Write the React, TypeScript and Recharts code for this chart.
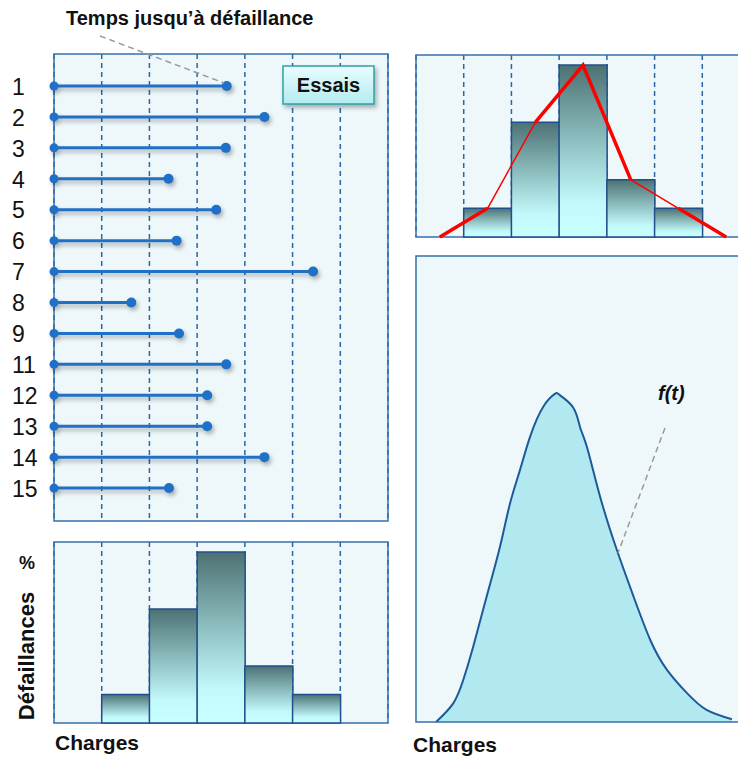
import React from 'react';
import {
  ComposedChart, Bar, Line, Area, XAxis, YAxis, CartesianGrid, ReferenceArea,
} from 'recharts';

// essais (rows) and time to failure, in load-bin units
const trials = ['1', '2', '3', '4', '5', '6', '7', '8', '9', '11', '12', '13', '14', '15'];
const failureTimes = [3.62, 4.41, 3.6, 2.4, 3.4, 2.57, 5.43, 1.62, 2.62, 3.61, 3.21, 3.21, 4.41, 2.41];

// histogram of failures per load bin (bin centres on a 0..7 load scale)
const binCenters = [0.5, 1.5, 2.5, 3.5, 4.5, 5.5, 6.5];
const failureCounts = [0, 1, 4, 6, 2, 1, 0];

// frequency polygon; drawn partly thick, partly thin
const polygonValues = [0, 1, 4, 6, 2, 1, 0];
const thickRunA = [true, true, false, false, false, true, true];
const thickRunB = [false, false, true, true, true, false, false];

// density curve f(t)
const densityX = [0.42, 0.78, 0.99, 1.2, 1.48, 1.76, 1.97, 2.18, 2.39, 2.67, 2.91, 3.02, 3.3, 3.44, 3.58, 3.86, 4.21, 4.56, 4.91, 5.26, 5.68, 6.09, 6.62];
const densityY = [0, 4, 9, 16.2, 26.9, 37.6, 46.9, 54.1, 61.2, 67.7, 70.4, 70.1, 67.4, 63.2, 59.1, 48.3, 36.9, 26.9, 17.6, 11.2, 6.2, 2.6, 0.6];

const gridTicks = [1, 2, 3, 4, 5, 6];
const LOAD_DOMAIN: [number, number] = [0, 7];
const ROW_DOMAIN: [number, number] = [-1.05, 14.05];

const trialRows = trials.map((t, i) => ({ row: i, trial: t, time: failureTimes[i] }));
const histRows = binCenters.map((c, i) => ({
  c,
  count: failureCounts[i] || null,
  poly: polygonValues[i],
  thickA: thickRunA[i] ? polygonValues[i] : null,
  thickB: thickRunB[i] ? polygonValues[i] : null,
}));
const densityRows = densityX.map((u, i) => ({ u, v: densityY[i] }));

const FONT = '"Liberation Sans", Arial, sans-serif';
const BG = '#eef8fb';
const FRAME = '#3570aa';
const DASH = '#2b66a2';

const Stick = (props: any) => {
  const { x, y, width, height } = props;
  const cy = y + height / 2;
  return (
    <g style={{ filter: 'drop-shadow(2px 3px 2px rgba(0,0,0,0.3))' }}>
      <line x1={x} x2={x + width} y1={cy} y2={cy} stroke="#1f70c6" strokeWidth={3} />
      <circle cx={x} cy={cy} r={4.5} fill="#1f70c6" />
      <circle cx={x + width} cy={cy} r={5} fill="#1f70c6" />
    </g>
  );
};

const RowTick = (props: any) => {
  const { y, payload } = props;
  return (
    <text x={12} y={y} dy="0.36em" fontSize={23} fontFamily={FONT} fill="#111">
      {trials[payload.value]}
    </text>
  );
};

const BarGradient = ({ id }: { id: string }) => (
  <defs>
    <linearGradient id={id} x1="0" y1="0" x2="0" y2="1">
      <stop offset="0%" stopColor="#4c7173" />
      <stop offset="45%" stopColor="#8fc0c1" />
      <stop offset="80%" stopColor="#c2f9fb" />
      <stop offset="100%" stopColor="#c8ffff" />
    </linearGradient>
  </defs>
);

export default function App() {
  return (
    <div style={{ position: 'absolute', left: 0, top: 0, width: 738, height: 757, overflow: 'hidden', background: '#fff', fontFamily: FONT }}>
      {/* Essais */}
      <div style={{ position: 'absolute', left: 0, top: 0 }}>
        <ComposedChart width={400} height={530} layout="vertical" data={trialRows}
          margin={{ top: 54, right: 12, bottom: 9, left: 12 }}>
          <CartesianGrid horizontal={false} strokeDasharray="5 4" stroke={DASH} strokeWidth={1.5} fill={BG} fillOpacity={1} />
          <XAxis type="number" domain={LOAD_DOMAIN} ticks={gridTicks} hide />
          <YAxis type="number" dataKey="row" domain={ROW_DOMAIN} width={42} axisLine={false} tickLine={false}
            ticks={trials.map((_, i) => i)} tick={<RowTick />} interval={0} allowDataOverflow />
          <ReferenceArea x1={0} x2={7} y1={ROW_DOMAIN[0]} y2={ROW_DOMAIN[1]} fill="none" stroke={FRAME} strokeWidth={1.5} />
          <Bar dataKey="time" barSize={10} shape={<Stick />} isAnimationActive={false} />
        </ComposedChart>
      </div>

      {/* histogram, bottom left */}
      <div style={{ position: 'absolute', left: 0, top: 534 }}>
        <ComposedChart width={400} height={197} data={histRows} barCategoryGap={0}
          margin={{ top: 8, right: 12, bottom: 8, left: 54 }}>
          <BarGradient id="gradB" />
          <XAxis dataKey="c" type="number" domain={LOAD_DOMAIN} ticks={gridTicks} hide />
          <YAxis domain={[0, 6.35]} hide />
          <CartesianGrid horizontal={false} strokeDasharray="5 4" stroke={DASH} strokeWidth={1.5} fill={BG} fillOpacity={1} />
          <Bar dataKey="count" fill="url(#gradB)" stroke="#1f4f8c" strokeWidth={1.5} isAnimationActive={false} />
          <ReferenceArea x1={0} x2={7} y1={0} y2={6.35} fill="none" stroke={FRAME} strokeWidth={1.5} />
        </ComposedChart>
      </div>

      {/* histogram + polygon, top right */}
      <div style={{ position: 'absolute', left: 404, top: 46 }}>
        <ComposedChart width={358} height={199} data={histRows} barCategoryGap={0}
          margin={{ top: 9, right: 12, bottom: 8, left: 12 }}>
          <BarGradient id="gradC" />
          <XAxis dataKey="c" type="number" domain={LOAD_DOMAIN} ticks={gridTicks} hide />
          <YAxis domain={[0, 6.35]} hide />
          <CartesianGrid horizontal={false} strokeDasharray="5 4" stroke={DASH} strokeWidth={1.5} fill={BG} fillOpacity={1} />
          <Bar dataKey="count" fill="url(#gradC)" stroke="#1f4f8c" strokeWidth={1.5} isAnimationActive={false} />
          <Line dataKey="poly" type="linear" stroke="#ff0000" strokeWidth={1.5} dot={false} isAnimationActive={false} />
          <Line dataKey="thickA" type="linear" stroke="#ff0000" strokeWidth={3.5} dot={false} isAnimationActive={false} />
          <Line dataKey="thickB" type="linear" stroke="#ff0000" strokeWidth={3.5} dot={false} isAnimationActive={false} />
          <ReferenceArea x1={0} x2={7} y1={0} y2={6.35} fill="none" stroke={FRAME} strokeWidth={1.5} />
        </ComposedChart>
      </div>

      {/* density f(t) */}
      <div style={{ position: 'absolute', left: 404, top: 248 }}>
        <ComposedChart width={358} height={482} data={densityRows}
          margin={{ top: 8, right: 12, bottom: 8, left: 12 }}>
          <CartesianGrid horizontal={false} vertical={false} fill={BG} fillOpacity={1} />
          <XAxis type="number" dataKey="u" domain={LOAD_DOMAIN} hide />
          <YAxis domain={[0, 100]} hide />
          <Area dataKey="v" type="natural" stroke="#1d5a9a" strokeWidth={2} fill="#b2e9f1" fillOpacity={1} isAnimationActive={false} />
          <ReferenceArea x1={0} x2={7} y1={0} y2={100} fill="none" stroke={FRAME} strokeWidth={1.5} />
        </ComposedChart>
      </div>

      {/* annotations */}
      <svg width={738} height={757} style={{ position: 'absolute', left: 0, top: 0, pointerEvents: 'none' }}>
        <defs>
          <linearGradient id="essaisFill" x1="0" y1="0" x2="0" y2="1">
            <stop offset="0%" stopColor="#eafcfd" />
            <stop offset="100%" stopColor="#b3ecf0" />
          </linearGradient>
        </defs>
        <text x={66} y={25} fontSize={20} fontWeight="bold" fontFamily={FONT} fill="#111">Temps jusqu’à défaillance</text>
        <line x1={100} y1={36} x2={224} y2={83} stroke="#9a9a9a" strokeWidth={1.5} strokeDasharray="6 4" />
        <g style={{ filter: 'drop-shadow(2px 3px 2px rgba(0,0,0,0.3))' }}>
          <rect x={283} y={66} width={91} height={38} fill="url(#essaisFill)" stroke="#2fa3a5" strokeWidth={1.5} />
        </g>
        <text x={328.5} y={92} textAnchor="middle" fontSize={20} fontWeight="bold" fontFamily={FONT} fill="#111">Essais</text>

        <text x={27} y={569} textAnchor="middle" fontSize={18} fontWeight="bold" fontFamily={FONT} fill="#111">%</text>
        <text transform="translate(34,656) rotate(-90)" textAnchor="middle" fontSize={22} fontWeight="bold" fontFamily={FONT} fill="#111">Défaillances</text>
        <text x={55} y={750} fontSize={21} fontWeight="bold" fontFamily={FONT} fill="#111">Charges</text>
        <text x={413} y={752} fontSize={21} fontWeight="bold" fontFamily={FONT} fill="#111">Charges</text>

        <text x={658} y={400} fontSize={20} fontWeight="bold" fontStyle="italic" fontFamily={FONT} fill="#111">f(t)</text>
        <line x1={665} y1={428} x2={618} y2={553} stroke="#9a9a9a" strokeWidth={1.5} strokeDasharray="6 4" />
      </svg>
    </div>
  );
}
